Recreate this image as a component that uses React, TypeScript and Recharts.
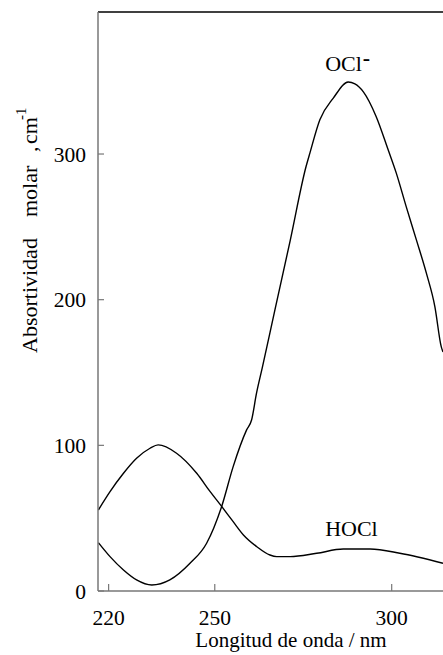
import React from 'react';
import { LineChart, Line, XAxis, YAxis, ReferenceLine, ReferenceDot } from 'recharts';

// Espectro de absorción HOCl / OCl-
const hoclWavelength = [217.1, 220.4, 224.2, 227.9, 231.7, 234.0, 239.2, 244.9, 248.7, 252.0, 255.2, 258.1, 261.9, 265.6, 267.5, 271.3, 278.8, 286.3, 293.9, 302.3, 314.5];
const hoclAbsorptivity = [55.6, 68.2, 80.8, 91.1, 98.0, 100.3, 94.6, 80.8, 68.2, 57.9, 47.6, 38.5, 30.4, 24.7, 23.6, 23.6, 25.9, 28.8, 28.8, 25.9, 19.0];

const oclWavelength = [217.1, 220.4, 224.2, 227.9, 232.2, 237.3, 243.0, 247.7, 252.0, 255.2, 259.0, 260.4, 261.8, 263.4, 267.0, 271.3, 275.8, 276.9, 279.7, 283.5, 287.7, 289.6, 292.0, 295.6, 299.0, 301.3, 304.1, 307.0, 309.8, 312.2, 314.0, 314.5];
const oclAbsorptivity = [33.2, 23.6, 14.4, 7.6, 4.1, 7.6, 19.0, 32.8, 58.4, 85.4, 110.6, 117.4, 135.8, 153.0, 193.0, 240.4, 291.4, 300.8, 323.5, 338.4, 349.4, 348.2, 342.7, 325.8, 302.9, 286.9, 263.9, 240.9, 218.2, 195.3, 167.8, 164.1];

const xTicks = [220, 250, 300];
const yTicks = [0, 100, 200, 300];
const xDomain = [217, 314.5];
const yMax = 397.5;

const hoclData = hoclWavelength.map((wl, i) => ({ wl, abs: hoclAbsorptivity[i] }));
const oclData = oclWavelength.map((wl, i) => ({ wl, abs: oclAbsorptivity[i] }));

const FONT = '"Liberation Serif", "Times New Roman", serif';
const AXIS_GRAY = '#777';

function Annotation({ viewBox, text, sup }: any) {
  if (!viewBox) return null;
  return (
    <text x={viewBox.x} y={viewBox.y} fontFamily={FONT} fontSize={22} fill="#000">
      {text}
      {sup && (
        <tspan dy={-6} dx={1} fontWeight="bold">
          {sup}
        </tspan>
      )}
    </text>
  );
}

// vertical title, drawn in the rotated frame (x = -screenY, y = screenX)
function YTitle({ viewBox }: any) {
  if (!viewBox) return null;
  const base = viewBox.x + 37;
  return (
    <text transform="rotate(-90)" y={base} fontFamily={FONT} fontSize={22} fill="#000">
      <tspan x={-353}>Absortividad</tspan>
      <tspan x={-217}>molar</tspan>
      <tspan x={-152}>,</tspan>
      <tspan x={-144}>cm</tspan>
      <tspan x={-120} y={base - 11} fontSize={15}>
        -1
      </tspan>
    </text>
  );
}

function XTitle({ viewBox }: any) {
  if (!viewBox) return null;
  return (
    <text x={291} y={viewBox.y + 56} textAnchor="middle" fontFamily={FONT} fontSize={21} fill="#000">
      Longitud de onda / nm
    </text>
  );
}

export default function App() {
  const tickStyle = { fontFamily: FONT, fontSize: 21.5, fill: '#000' };

  return (
    <div style={{ position: 'absolute', left: 0, top: 0, width: 443, height: 655, background: '#fff' }}>
      <LineChart width={443} height={655} margin={{ top: 12, right: 0, bottom: 0, left: 0 }}>
        <XAxis
          dataKey="wl"
          type="number"
          domain={xDomain}
          ticks={xTicks}
          allowDataOverflow
          height={64}
          tickSize={-7}
          tickMargin={26}
          tick={tickStyle}
          axisLine={{ stroke: AXIS_GRAY, strokeWidth: 1.5 }}
          tickLine={{ stroke: AXIS_GRAY, strokeWidth: 1.2 }}
          label={<XTitle />}
        />
        <YAxis
          type="number"
          domain={[0, yMax]}
          ticks={yTicks}
          allowDataOverflow
          width={98}
          tickSize={-6}
          tickMargin={18}
          tick={tickStyle}
          axisLine={{ stroke: AXIS_GRAY, strokeWidth: 1.5 }}
          tickLine={{ stroke: AXIS_GRAY, strokeWidth: 1.2 }}
          label={<YTitle />}
        />
        <ReferenceLine y={yMax} stroke="#000" strokeWidth={1.5} />
        <Line
          data={hoclData}
          dataKey="abs"
          type="monotone"
          stroke="#000"
          strokeWidth={1.4}
          dot={false}
          isAnimationActive={false}
        />
        <Line
          data={oclData}
          dataKey="abs"
          type="monotone"
          stroke="#000"
          strokeWidth={1.4}
          dot={false}
          isAnimationActive={false}
        />
        <ReferenceDot x={281.2} y={356.7} r={0} fill="none" stroke="none" label={<Annotation text="OCl" sup="-" />} />
        <ReferenceDot x={281.2} y={37.8} r={0} fill="none" stroke="none" label={<Annotation text="HOCl" />} />
      </LineChart>
    </div>
  );
}
